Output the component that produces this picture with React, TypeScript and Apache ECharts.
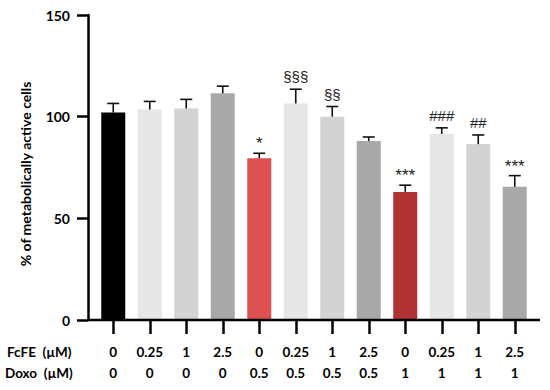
import React, { useEffect, useRef } from 'react';
import * as echarts from 'echarts';

const fcfe = ['0', '0.25', '1', '2.5', '0', '0.25', '1', '2.5', '0', '0.25', '1', '2.5'];
const doxo = ['0', '0', '0', '0', '0.5', '0.5', '0.5', '0.5', '1', '1', '1', '1'];
const means = [102, 103.5, 104, 111.5, 79.5, 106.5, 100, 88, 63, 91.5, 86.5, 65.5];
const sems = [4.5, 4, 4.5, 3.5, 2.5, 7, 5, 2, 3.3, 3, 4.5, 5.5];
const marks = ['', '', '', '', '*', '§§§', '§§', '', '***', '###', '##', '***'];
const yTicks = [0, 50, 100, 150];
const rowHeaders = ['FcFE  (µM)', 'Doxo  (µM)'];
const yTitle = '% of metabolically active cells';

const FONT = 'Lato, "Open Sans", sans-serif';

function colorFor(i: number): string {
  if (fcfe[i] === '0') {
    if (doxo[i] === '0') return '#000000';
    if (doxo[i] === '0.5') return '#dc5050';
    return '#b03232';
  }
  if (fcfe[i] === '0.25') return '#e6e6e6';
  if (fcfe[i] === '1') return '#d3d3d3';
  return '#a8a8a8';
}

export default function App() {
  const ref = useRef<HTMLDivElement>(null);
  useEffect(() => {
    if (!ref.current) return;
    const chart = echarts.init(ref.current, null, { renderer: 'svg' });
    const option: any = {
      animation: false,
      backgroundColor: '#ffffff',
      grid: { left: 95, right: 17, top: 15, bottom: 70 },
      xAxis: {
        type: 'category',
        data: fcfe.map((_, i) => String(i)),
        axisLine: { show: false },
        axisTick: { show: true, alignWithLabel: true, length: 14, lineStyle: { color: '#000', width: 2.5 } },
        axisLabel: {
          margin: 21,
          interval: 0,
          fontFamily: FONT,
          fontWeight: 'bold',
          fontSize: 13.5,
          color: '#000',
          lineHeight: 21,
          formatter: (_v: string, idx: number) => `${fcfe[idx]}\n${doxo[idx]}`,
        },
      },
      yAxis: {
        type: 'value',
        min: yTicks[0],
        max: yTicks[yTicks.length - 1],
        interval: 50,
        offset: 7,
        axisLine: { show: true, lineStyle: { color: '#000', width: 2.5 } },
        axisTick: { show: true, length: 11, lineStyle: { color: '#000', width: 2.5 } },
        axisLabel: { margin: 18, fontFamily: FONT, fontWeight: 'bold', fontSize: 14, color: '#000' },
        splitLine: { show: false },
      },
      series: [
        {
          type: 'bar',
          barWidth: 24,
          data: means.map((v, i) => ({ value: v, itemStyle: { color: colorFor(i) } })),
        },
        {
          type: 'custom',
          data: means.map((m, i) => [i, m, sems[i]]),
          z: 5,
          renderItem: (params: any, api: any) => {
            const i = api.value(0);
            const m = api.value(1);
            const e = api.value(2);
            const base = api.coord([i, m]);
            const top = api.coord([i, m + e]);
            const half = 6;
            const children: any[] = [
              { type: 'line', shape: { x1: base[0], y1: base[1], x2: top[0], y2: top[1] }, style: { stroke: '#111', lineWidth: 1.6 } },
              { type: 'line', shape: { x1: top[0] - half, y1: top[1], x2: top[0] + half, y2: top[1] }, style: { stroke: '#111', lineWidth: 1.6 } },
            ];
            const t = marks[params.dataIndex];
            if (t) {
              const isStar = t.indexOf('*') >= 0;
              children.push({
                type: 'text',
                x: top[0],
                y: top[1] - (isStar ? 1 : 5),
                style: {
                  text: t,
                  align: 'center',
                  verticalAlign: 'bottom',
                  fontSize: isStar ? 17 : 15,
                  fontFamily: '"Liberation Sans", Arial, sans-serif',
                  fill: '#222',
                },
              });
            }
            return { type: 'group', children };
          },
        },
      ],
      graphic: [
        { type: 'line', shape: { x1: 87, y1: 320, x2: 540, y2: 320 }, style: { stroke: '#000', lineWidth: 2.5 }, z: 10 },
        {
          type: 'text',
          x: 25,
          y: 174,
          rotation: Math.PI / 2,
          style: { text: yTitle, align: 'center', verticalAlign: 'middle', fontSize: 14, fontWeight: 'bold', fontFamily: FONT, fill: '#000' },
        },
        {
          type: 'text', x: 7, y: 352,
          style: { text: rowHeaders[0], align: 'left', verticalAlign: 'middle', fontSize: 13.5, fontWeight: 'bold', fontFamily: FONT, fill: '#000' },
        },
        {
          type: 'text', x: 5, y: 373,
          style: { text: rowHeaders[1], align: 'left', verticalAlign: 'middle', fontSize: 13.5, fontWeight: 'bold', fontFamily: FONT, fill: '#000' },
        },
      ],
    };
    chart.setOption(option);
    return () => chart.dispose();
  }, []);
  return <div ref={ref} style={{ position: 'fixed', left: 0, top: 0, width: 550, height: 390 }} />;
}
